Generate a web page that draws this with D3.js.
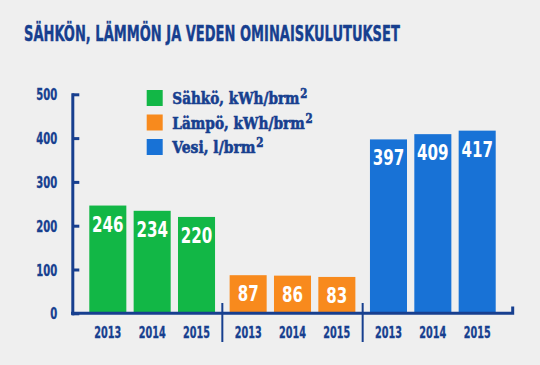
<!DOCTYPE html>
<html>
<head>
<meta charset="utf-8">
<script src="https://cdn.jsdelivr.net/npm/d3@7"></script>
<style>
  html, body { margin: 0; padding: 0; background: #efefef; }
  svg { display: block; }
</style>
</head>
<body>
<div id="chart"></div>
<script>
// ==========================
// DATA
// ==========================
const title = "SÄHKÖN, LÄMMÖN JA VEDEN OMINAISKULUTUKSET";
const groups = ["Sähkö, kWh/brm", "Lämpö, kWh/brm", "Vesi, l/brm"];
const years = ["2013", "2014", "2015"];
const sahko = [246, 234, 220];
const lampo = [87, 86, 83];
const vesi = [397, 409, 417];
const yTicks = [0, 100, 200, 300, 400, 500];
const colors = ["#12b746", "#f88a1d", "#1872d6"];

const values = [sahko, lampo, vesi];
const navy = "#173f8f";
const condensed = "'DejaVu Sans Condensed', 'DejaVu Sans', sans-serif";

const width = 540;
const height = 365;

const svg = d3.select("#chart")
  .append("svg")
  .attr("width", width)
  .attr("height", height);

svg.append("rect")
  .attr("width", width)
  .attr("height", height)
  .attr("fill", "#efefef");

// squeeze a text horizontally to a given width, anchored at (x, y)
function squeeze(node, x, y, w, anchor) {
  const sel = d3.select(node).attr("x", 0).attr("y", 0);
  const k = w / node.getComputedTextLength();
  sel.attr("text-anchor", anchor || "start")
     .attr("transform", `translate(${x},${y}) scale(${k},1)`);
}

// title
svg.append("text")
  .attr("fill", navy)
  .attr("font-family", condensed)
  .attr("font-weight", "bold")
  .attr("font-size", 22)
  .attr("stroke", navy)
  .attr("stroke-width", 0.4)
  .text(title)
  .each(function() { squeeze(this, 24, 41, 376); });

// ==========================
// SCALES
// ==========================
const y = d3.scaleLinear().domain([0, 500]).range([313.3, 94.3]);

const xGroup = d3.scaleBand()
  .domain(groups)
  .range([82, 503])
  .paddingInner(0.104)
  .paddingOuter(0.052);

const xYear = d3.scaleBand()
  .domain(years)
  .range([0, xGroup.bandwidth()])
  .paddingInner(0.165);

// ==========================
// BARS
// ==========================
groups.forEach((g, gi) => {
  const gx = xGroup(g);

  svg.selectAll(`.bar-${gi}`)
    .data(values[gi])
    .enter()
    .append("rect")
    .attr("class", `bar-${gi}`)
    .attr("x", (d, i) => gx + xYear(years[i]))
    .attr("y", d => y(d))
    .attr("width", xYear.bandwidth())
    .attr("height", d => y(0) - y(d))
    .attr("fill", colors[gi]);

  svg.selectAll(`.val-${gi}`)
    .data(values[gi])
    .enter()
    .append("text")
    .attr("class", `val-${gi}`)
    .attr("fill", "#fff")
    .attr("font-family", condensed)
    .attr("font-weight", "bold")
    .attr("font-size", 21)
    .text(d => d)
    .each(function(d, i) {
      squeeze(this, gx + xYear(years[i]) + xYear.bandwidth() / 2, y(d) + 26,
              String(d).length * 10.5, "middle");
    });

  svg.selectAll(`.year-${gi}`)
    .data(years)
    .enter()
    .append("text")
    .attr("class", `year-${gi}`)
    .attr("fill", navy)
    .attr("font-family", condensed)
    .attr("font-weight", "bold")
    .attr("font-size", 15)
    .attr("stroke", navy)
    .attr("stroke-width", 0.3)
    .text(d => d)
    .each(function(d) {
      squeeze(this, gx + xYear(d) + xYear.bandwidth() / 2, 337.7, 27, "middle");
    });
});

// group separators
const sepX = groups.slice(1).map(g => xGroup(g) - xGroup.step() * xGroup.paddingInner() / 2);
svg.selectAll(".sep")
  .data(sepX)
  .enter()
  .append("line")
  .attr("class", "sep")
  .attr("x1", d => d).attr("x2", d => d)
  .attr("y1", 303).attr("y2", 342)
  .attr("stroke", navy)
  .attr("stroke-width", 2);

// ==========================
// AXES
// ==========================
const yAxis = svg.append("g")
  .attr("transform", "translate(72.3,0)")
  .call(d3.axisLeft(y).tickValues(yTicks).tickSize(-7).tickSizeOuter(0).tickPadding(15));

yAxis.select(".domain")
  .attr("stroke", navy)
  .attr("stroke-width", 3)
  .attr("stroke-linecap", "square");
yAxis.selectAll(".tick line")
  .attr("stroke", navy)
  .attr("stroke-width", 3);
// tick text sits inside each tick's own translated group
yAxis.selectAll(".tick text")
  .attr("fill", navy)
  .attr("font-family", condensed)
  .attr("font-weight", "bold")
  .attr("font-size", 15)
  .attr("stroke", navy)
  .attr("stroke-width", 0.3)
  .attr("dy", null)
  .each(function(d) { squeeze(this, -15, 5.5, String(d).length * 7, "end"); });

// baseline with small end tick
svg.append("path")
  .attr("d", `M71,${y(0)}H512.7V306.5`)
  .attr("fill", "none")
  .attr("stroke", navy)
  .attr("stroke-width", 3);

// ==========================
// LEGEND
// ==========================
const legendW = [134.4, 139.7, 90.4];
const legend = svg.append("g").attr("transform", "translate(146.7,90)");

groups.forEach((g, i) => {
  const row = legend.append("g").attr("transform", `translate(0,${i * 24.5})`);
  row.append("rect")
    .attr("width", 16)
    .attr("height", 16)
    .attr("fill", colors[i]);
  const t = row.append("text")
    .attr("fill", navy)
    .attr("stroke", navy)
    .attr("stroke-width", 0.6)
    .attr("font-family", "'DejaVu Serif', serif")
    .attr("font-weight", "bold")
    .attr("font-size", 16);
  t.append("tspan").text(g);
  t.append("tspan")
    .attr("font-size", 12)
    .attr("dx", 1)
    .attr("dy", -6)
    .text("2");
  squeeze(t.node(), 25.6, 14, legendW[i]);
});
</script>
</body>
</html>
